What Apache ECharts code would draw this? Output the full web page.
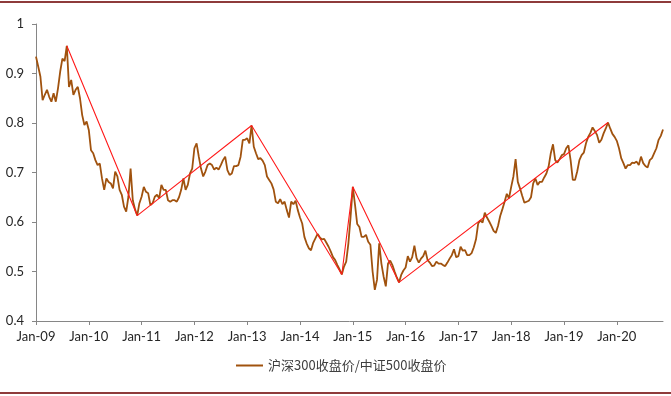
<!DOCTYPE html>
<html>
<head>
<meta charset="utf-8">
<script src="https://cdn.jsdelivr.net/npm/echarts@6/dist/echarts.min.js"></script>
<style>
  html, body { margin: 0; padding: 0; background: #fff; }
  #main { width: 671px; height: 396px; }
</style>
</head>
<body>
<div id="main"></div>
<script>
// 沪深300/中证500 比值，半月取样（每月1日、16日），2009-01 起
var seriesName = '沪深300收盘价/中证500收盘价';
var ratio = [
  0.934, 0.914, 0.894, 0.846, 0.857, 0.867, 0.853, 0.843, 0.860, 0.843,
  0.870, 0.904, 0.930, 0.925, 0.956, 0.873, 0.887, 0.857, 0.867, 0.873,
  0.850, 0.816, 0.796, 0.803, 0.786, 0.745, 0.739, 0.725, 0.715, 0.718,
  0.688, 0.665, 0.688, 0.681, 0.678, 0.668, 0.702, 0.692, 0.665, 0.655,
  0.631, 0.621, 0.651, 0.708, 0.644, 0.626, 0.613, 0.638, 0.651, 0.671,
  0.661, 0.658, 0.634, 0.638, 0.651, 0.655, 0.648, 0.675, 0.665, 0.665,
  0.644, 0.641, 0.644, 0.644, 0.641, 0.650, 0.665, 0.688, 0.665, 0.675,
  0.698, 0.708, 0.749, 0.759, 0.732, 0.708, 0.692, 0.702, 0.715, 0.718,
  0.715, 0.706, 0.710, 0.706, 0.715, 0.725, 0.732, 0.705, 0.695, 0.698,
  0.713, 0.713, 0.715, 0.732, 0.766, 0.766, 0.769, 0.759, 0.795, 0.752,
  0.739, 0.727, 0.729, 0.724, 0.715, 0.692, 0.685, 0.678, 0.666, 0.641,
  0.638, 0.646, 0.636, 0.641, 0.624, 0.609, 0.641, 0.636, 0.643, 0.624,
  0.609, 0.597, 0.570, 0.557, 0.547, 0.543, 0.558, 0.567, 0.576, 0.569,
  0.565, 0.566, 0.558, 0.550, 0.540, 0.529, 0.523, 0.513, 0.504, 0.494,
  0.510, 0.520, 0.557, 0.611, 0.671, 0.635, 0.596, 0.590, 0.570, 0.570,
  0.574, 0.560, 0.554, 0.500, 0.463, 0.483, 0.557, 0.516, 0.490, 0.470,
  0.516, 0.522, 0.513, 0.500, 0.488, 0.478, 0.493, 0.502, 0.508, 0.531,
  0.520, 0.529, 0.552, 0.527, 0.518, 0.526, 0.531, 0.542, 0.523, 0.518,
  0.511, 0.512, 0.520, 0.516, 0.516, 0.513, 0.511, 0.518, 0.526, 0.533,
  0.545, 0.529, 0.531, 0.550, 0.542, 0.543, 0.533, 0.533, 0.537, 0.549,
  0.565, 0.597, 0.603, 0.599, 0.619, 0.609, 0.601, 0.592, 0.582, 0.578,
  0.592, 0.612, 0.626, 0.641, 0.657, 0.648, 0.671, 0.692, 0.727, 0.681,
  0.668, 0.653, 0.639, 0.641, 0.643, 0.650, 0.678, 0.688, 0.675, 0.681,
  0.681, 0.690, 0.698, 0.712, 0.739, 0.757, 0.725, 0.720, 0.727, 0.735,
  0.737, 0.749, 0.755, 0.725, 0.685, 0.685, 0.702, 0.725, 0.735, 0.740,
  0.759, 0.772, 0.780, 0.791, 0.784, 0.776, 0.760, 0.766, 0.779, 0.789,
  0.801, 0.789, 0.778, 0.772, 0.764, 0.749, 0.729, 0.719, 0.708, 0.715,
  0.715, 0.720, 0.719, 0.722, 0.715, 0.732, 0.719, 0.713, 0.710, 0.725,
  0.729, 0.739, 0.749, 0.766, 0.774, 0.787
];
// 红色趋势线的转折点
var trendDates = ['2009-08-01', '2010-12-01', '2013-02-01', '2014-10-16', '2015-01-01', '2015-11-16', '2019-11-01'];
var trendValues = [0.956, 0.613, 0.795, 0.494, 0.671, 0.478, 0.801];
var monthNames = ['Jan', 'Feb', 'Mar', 'Apr', 'May', 'Jun', 'Jul', 'Aug', 'Sep', 'Oct', 'Nov', 'Dec'];

function pad(n) { return n < 10 ? '0' + n : '' + n; }

var dates = [];
for (var i = 0; i < ratio.length; i++) {
  var y = 2009 + Math.floor(i / 24);
  var m = Math.floor((i % 24) / 2) + 1;
  var d = i % 2 ? 16 : 1;
  dates.push(y + '-' + pad(m) + '-' + pad(d));
}

var trend = trendDates.map(function (t, k) { return [t, trendValues[k]]; });

function isYearStart(idx, val) { return /-01-01$/.test(val); }

var chart = echarts.init(document.getElementById('main'), null, { renderer: 'canvas' });
var axisColor = '#868686';
var option = {
  animation: false,
  backgroundColor: '#fff',
  grid: { left: 36, right: 8, top: 24, bottom: 75 },
  legend: {
    data: [seriesName],
    icon: 'rect',
    left: 236,
    top: 359,
    padding: 0,
    itemWidth: 27,
    itemHeight: 2,
    itemGap: 4,
    textStyle: { fontFamily: 'Noto Sans CJK SC', fontSize: 13, color: '#404040' }
  },
  xAxis: {
    type: 'category',
    data: dates,
    boundaryGap: false,
    axisLine: { lineStyle: { color: axisColor, width: 1 } },
    axisTick: { show: true, interval: isYearStart, length: 4, lineStyle: { color: axisColor } },
    axisLabel: {
      interval: isYearStart,
      margin: 9,
      fontFamily: 'Lato',
      fontSize: 13,
      color: '#262626',
      formatter: function (v) {
        var mm = parseInt(v.slice(5, 7), 10) - 1;
        return monthNames[mm] + '-' + v.slice(2, 4);
      }
    },
    splitLine: { show: false }
  },
  yAxis: {
    type: 'value',
    min: 0.4,
    max: 1,
    interval: 0.1,
    axisLine: { show: true, lineStyle: { color: axisColor, width: 1 } },
    axisTick: { show: true, length: 4, lineStyle: { color: axisColor } },
    axisLabel: {
      margin: 12,
      fontFamily: 'Lato',
      fontSize: 13,
      color: '#262626',
      formatter: function (v) { return String(Math.round(v * 10) / 10); }
    },
    splitLine: { show: false }
  },
  series: [
    {
      name: seriesName,
      type: 'line',
      data: ratio,
      symbol: 'none',
      lineStyle: { color: '#A0520E', width: 1.8 },
      itemStyle: { color: '#A0520E' },
      z: 2
    },
    {
      name: 'trend',
      type: 'line',
      data: trend,
      symbol: 'none',
      lineStyle: { color: '#FF1A1A', width: 1.1 },
      itemStyle: { color: '#FF1A1A' },
      z: 3
    }
  ],
  graphic: [
    { type: 'rect', shape: { x: 0, y: 1, width: 671, height: 2 }, style: { fill: '#8E3B3B' } },
    { type: 'rect', shape: { x: 0, y: 392, width: 671, height: 2 }, style: { fill: '#8E3B3B' } }
  ]
};
chart.setOption(option);
</script>
</body>
</html>
